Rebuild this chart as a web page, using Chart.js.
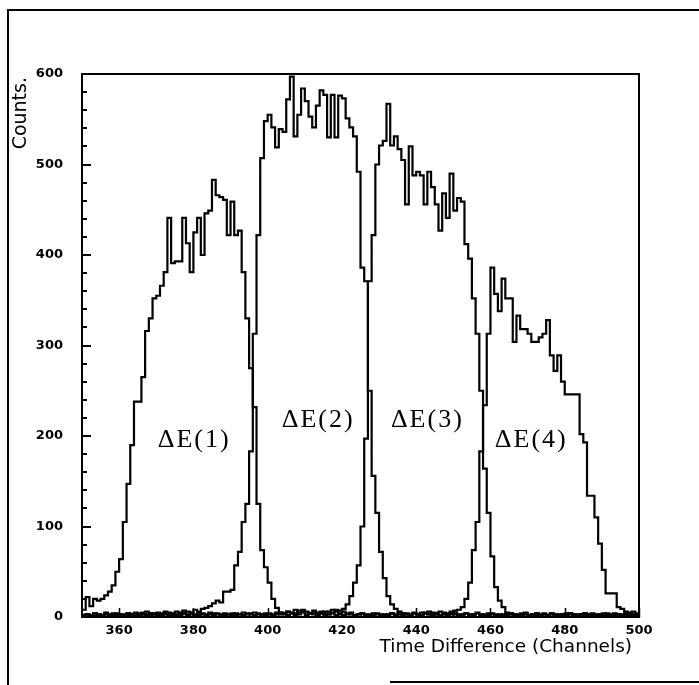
<!DOCTYPE html>
<html><head><meta charset="utf-8">
<script src="https://cdn.jsdelivr.net/npm/chart.js@4/dist/chart.umd.min.js"></script>
<style>html,body{margin:0;padding:0;background:#fff;}canvas{display:block;}</style>
</head><body>
<canvas id="c" width="699" height="685"></canvas>
<script>
// ---- data ----
const firstChannel = 350;
const lastChannel = 500;
const xTickLabels = [360, 380, 400, 420, 440, 460, 480, 500];
const yTickLabels = [0, 100, 200, 300, 400, 500, 600];
const seriesNames = ['\u0394E(1)', '\u0394E(2)', '\u0394E(3)', '\u0394E(4)'];
const xTitle = 'Time Difference (Channels)';
const yTitle = 'Counts.';

// counts per channel, channel 350 .. 499
const dE1 = [8,22,12,20,18,20,24,28,35,50, 64,105,147,190,238,238,265,316,330,352,
  355,366,381,441,391,393,393,441,413,381, 425,441,400,446,449,483,466,464,461,422,
  459,422,427,381,330,275,232,125,74,55, 38,20,10,5,
  3,2,4,2,3,5,2,4,3,2, 4,6,3,5,8,4,6,3,5,2, 3,4,2,3,2,4,3,2,3,4, 2,3,2,4,3,5,3,2,4,3,
  2,3,2,4,2,3,5,3,2,4, 3,2,4,2,3,2,4,3,2,3, 2,4,3,2,3,5,2,3,4,2, 3,2,4,3,2,3,2,4,3,2,
  3,4,2,3,2,3,4,2,3,2, 3,2,4,3,2,3];
const dE2 = [2,3,2,4,3,2,5,3,2,4, 3,2,4,3,5,4,3,6,4,3, 5,4,6,5,4,6,5,7,6,5, 8,6,9,10,
  12,15,18,16,28,28,30,57,72,105, 125,183,313,422,507,548,555,541,519,539,
  536,572,597,531,555,584,570,553,541,565, 582,577,530,577,530,576,573,551,541,531,
  492,386,371,250,156,115,72,43,23,14, 9,6,4,
  3,2,4,3,2,5,6,3,4,2, 3,2,4,3,2,3,4,2,3,5, 3,2,4,3,2,3,2,4,3,2, 3,2,4,2,3,2,3,4,2,3,
  2,3,2,4,3,2,3,2,4,3, 2,3,2,3,4,2,3,2,3,2, 3,2,2];
const dE3 = [2,3,2,1,3,2,4,2,3,2, 3,2,4,3,2,3,5,3,2,4, 3,2,3,4,2,3,2,4,3,5, 3,2,4,3,5,4,3,2,4,3,
  2,4,3,5,4,3,5,4,3,2, 4,3,5,3,4,6,4,8,5,6, 5,4,7,5,6,4,6,8,6,7, 9,
  14,23,38,57,100,197,371,422,500,521, 526,567,521,531,517,505,456,520,488,492,
  488,456,492,475,456,427,468,441,490,449, 463,459,412,396,352,313,250,164,115,67,
  33,18,11,5,
  4,3,2,4,3,2,3,4,2,3, 2,4,3,2,3,2,4,3,2,3, 2,3,4,2,3,2,3,2,4,3, 2,3,2,3,2];
const dE4 = [2,3,2,4,3,2,3,2,4,3, 2,3,2,3,4,2,3,2,4,3, 2,3,4,2,3,2,3,4,2,3, 2,4,3,2,3,2,4,3,2,3,
  4,2,3,2,3,4,2,3,2,4, 3,2,3,5,4,6,5,4,7,8, 6,4,5,3,4,2,3,4,2,3, 2,4,3,2,3,4,3,2,4,3,
  2,3,2,4,3,5,4,3,2,4, 3,5,4,3,5,4,6,5,4,6, 7,
  8,11,20,38,74,105,183,234,313,386, 357,338,374,352,352,304,333,318,318,313,
  304,304,309,313,328,289,272,289,260,246, 246,246,246,202,193,134,134,110,81,52,
  26,26,26,11,9,6,5,6,4];
const allSeries = [dE1, dE2, dE3, dE4];

// label anchor points (in data units) for the ΔE annotations
const labelAnchors = [[380.2, 195], [413.6, 218], [443, 218], [471, 195]];

function toSteps(arr) {
  const pts = arr.map((v, i) => ({x: firstChannel + i, y: v}));
  pts.push({x: lastChannel, y: arr[arr.length - 1]});
  return pts;
}

const decor = {
  id: 'decor',
  afterDatasetsDraw(chart) {
    const ctx = chart.ctx, a = chart.chartArea;
    const xs = chart.scales.x, ys = chart.scales.y;
    ctx.save();
    ctx.strokeStyle = '#000';
    ctx.lineWidth = 2;
    ctx.strokeRect(a.left, a.top, a.right - a.left, a.bottom - a.top);
    // y ticks
    ctx.lineWidth = 2;
    for (let v = 0; v <= 600; v += 20) {
      const y = Math.round(ys.getPixelForValue(v));
      const len = v % 100 === 0 ? 9 : 5;
      ctx.beginPath(); ctx.moveTo(a.left, y); ctx.lineTo(a.left + len, y); ctx.stroke();
    }
    ctx.lineWidth = 1.5;
    for (let v = 350; v <= 500; v += 5) {
      const x = Math.round(xs.getPixelForValue(v)) + 0.5;
      const len = v % 20 === 0 ? 9 : 4;
      ctx.beginPath(); ctx.moveTo(x, a.bottom); ctx.lineTo(x, a.bottom - len); ctx.stroke();
    }
    // annotations
    ctx.fillStyle = '#000';
    ctx.font = '26px "Liberation Serif", "Times New Roman", serif';
    ctx.letterSpacing = '2px';
    ctx.textAlign = 'center';
    ctx.textBaseline = 'middle';
    seriesNames.forEach((n, i) => {
      ctx.fillText(n, xs.getPixelForValue(labelAnchors[i][0]), ys.getPixelForValue(labelAnchors[i][1]));
    });
    ctx.letterSpacing = '0px';
    // axis titles
    ctx.font = '18.5px "DejaVu Sans", sans-serif';
    ctx.textAlign = 'right';
    ctx.textBaseline = 'middle';
    ctx.fillText(xTitle, a.right - 7, 647);
    ctx.save();
    ctx.translate(21, a.top + 3);
    ctx.rotate(-Math.PI / 2);
    ctx.font = '19px "DejaVu Sans", sans-serif';
    ctx.textAlign = 'right';
    ctx.fillText(yTitle, 0, 0);
    ctx.restore();
    // outer frame
    ctx.lineWidth = 2;
    ctx.beginPath();
    ctx.moveTo(8, 685); ctx.lineTo(8, 10); ctx.lineTo(699, 10);
    ctx.stroke();
    ctx.beginPath();
    ctx.moveTo(390, 682); ctx.lineTo(699, 682);
    ctx.stroke();
    ctx.restore();
  }
};

new Chart(document.getElementById('c'), {
  type: 'line',
  data: {
    datasets: allSeries.map((s, i) => ({
      label: seriesNames[i],
      data: toSteps(s),
      stepped: 'before',
      borderColor: '#000',
      borderWidth: 2.2,
      pointRadius: 0,
      fill: false,
      tension: 0
    }))
  },
  options: {
    responsive: false,
    animation: false,
    devicePixelRatio: 1,
    layout: {padding: {left: 0, top: 74, right: 60, bottom: 0}},
    plugins: {legend: {display: false}, tooltip: {enabled: false}},
    scales: {
      x: {
        type: 'linear', min: firstChannel, max: lastChannel,
        afterBuildTicks: s => { s.ticks = xTickLabels.map(v => ({value: v})); },
        afterFit: s => { s.height = 68; },
        grid: {display: false, drawTicks: false},
        border: {display: false},
        ticks: {color: '#000', padding: 6, maxRotation: 0, font: {family: 'DejaVu Sans', weight: 'bold', size: 13}}
      },
      y: {
        type: 'linear', min: 0, max: 600,
        afterBuildTicks: s => { s.ticks = yTickLabels.map(v => ({value: v})); },
        afterFit: s => { s.width = 82; },
        grid: {display: false, drawTicks: false},
        border: {display: false},
        ticks: {color: '#000', padding: 19, font: {family: 'DejaVu Sans', weight: 'bold', size: 13}}
      }
    }
  },
  plugins: [decor]
});
</script>
</body></html>
